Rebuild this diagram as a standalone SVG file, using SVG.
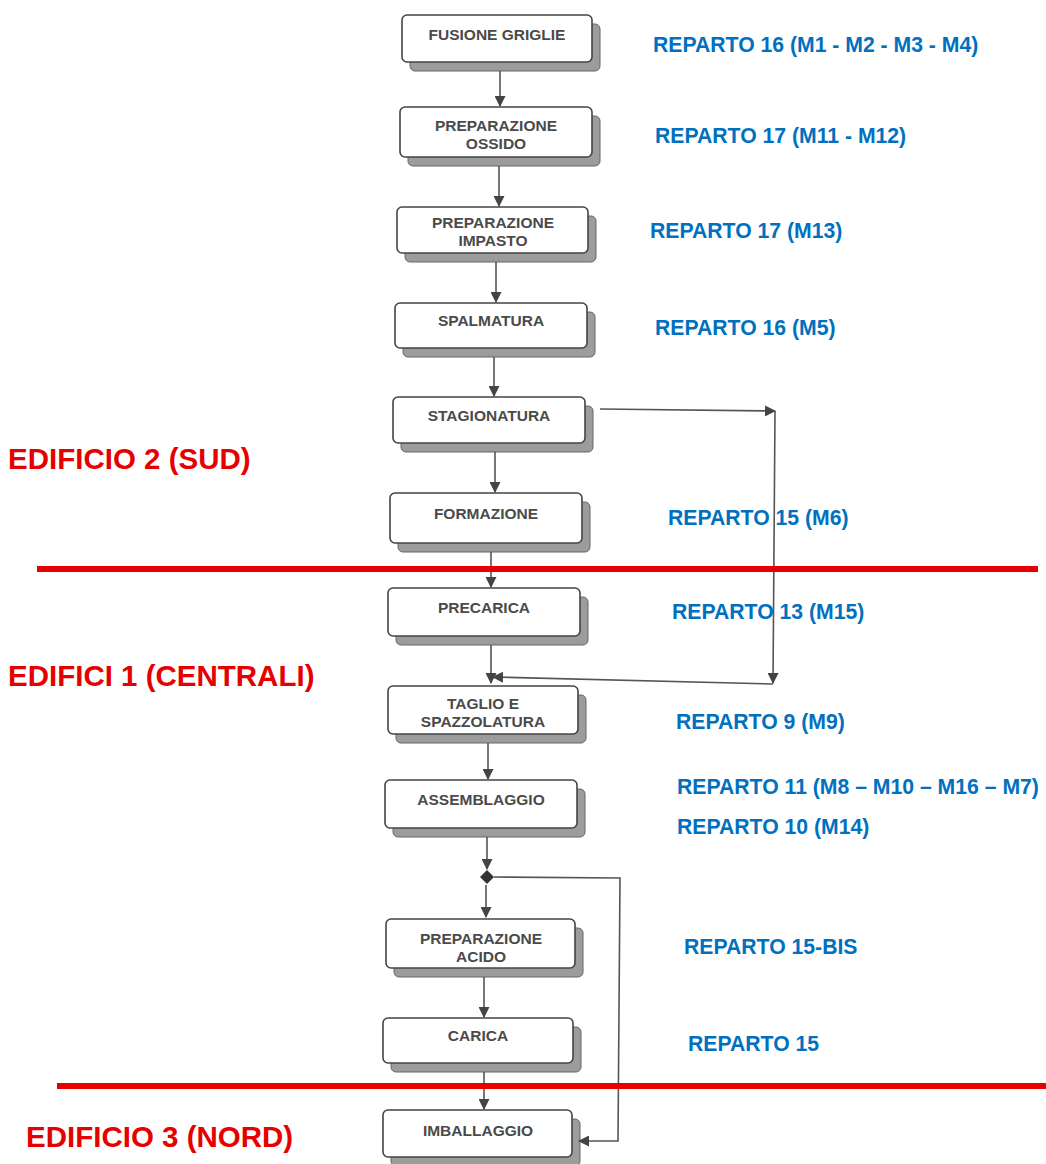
<svg xmlns="http://www.w3.org/2000/svg" width="1046" height="1164" viewBox="0 0 1046 1164">
<style>
.bx{fill:#fff;stroke:#444;stroke-width:1.6}
.sh{fill:#9c9c9c;stroke:#666;stroke-width:1}
.bt{font-family:"Liberation Sans",Arial,sans-serif;font-weight:bold;font-size:15.5px;fill:#4a4a4a;text-anchor:middle}
.rp{font-family:"Liberation Sans",Arial,sans-serif;font-weight:bold;font-size:21.2px;fill:#0070C0}
.ed{font-family:"Liberation Sans",Arial,sans-serif;font-weight:bold;font-size:29.5px;fill:#e60000}
.cn{fill:none;stroke:#555;stroke-width:1.6}
.rl{stroke:#e60000;stroke-width:6}
</style>
<defs>
<marker id="ah" markerWidth="11" markerHeight="11" refX="10" refY="5.5" orient="auto" markerUnits="userSpaceOnUse">
<path d="M0,0 L11,5.5 L0,11 z" fill="#444"/>
</marker>
</defs>

<g id="n1"><rect class="sh" x="410" y="24" width="190" height="47" rx="5"/><rect class="bx" x="402" y="15" width="190" height="47" rx="5"/><text class="bt" x="497" y="40">FUSIONE GRIGLIE</text></g>
<g id="n2"><rect class="sh" x="408" y="116" width="192" height="50" rx="5"/><rect class="bx" x="400" y="107" width="192" height="50" rx="5"/><text class="bt" x="496" y="131">PREPARAZIONE</text><text class="bt" x="496" y="149">OSSIDO</text></g>
<g id="n3"><rect class="sh" x="405" y="216" width="191" height="46" rx="5"/><rect class="bx" x="397" y="207" width="191" height="46" rx="5"/><text class="bt" x="493" y="228">PREPARAZIONE</text><text class="bt" x="493" y="246">IMPASTO</text></g>
<g id="n4"><rect class="sh" x="403" y="312" width="192" height="45" rx="5"/><rect class="bx" x="395" y="303" width="192" height="45" rx="5"/><text class="bt" x="491" y="326">SPALMATURA</text></g>
<g id="n5"><rect class="sh" x="401" y="406" width="192" height="46" rx="5"/><rect class="bx" x="393" y="397" width="192" height="46" rx="5"/><text class="bt" x="489" y="421">STAGIONATURA</text></g>
<g id="n6"><rect class="sh" x="398" y="502" width="192" height="50" rx="5"/><rect class="bx" x="390" y="493" width="192" height="50" rx="5"/><text class="bt" x="486" y="519">FORMAZIONE</text></g>
<g id="n7"><rect class="sh" x="396" y="597" width="192" height="48" rx="5"/><rect class="bx" x="388" y="588" width="192" height="48" rx="5"/><text class="bt" x="484" y="613">PRECARICA</text></g>
<g id="n8"><rect class="sh" x="396" y="695" width="190" height="48" rx="5"/><rect class="bx" x="388" y="686" width="190" height="48" rx="5"/><text class="bt" x="483" y="709">TAGLIO E</text><text class="bt" x="483" y="727">SPAZZOLATURA</text></g>
<g id="n9"><rect class="sh" x="393" y="789" width="192" height="48" rx="5"/><rect class="bx" x="385" y="780" width="192" height="48" rx="5"/><text class="bt" x="481" y="805">ASSEMBLAGGIO</text></g>
<g id="n10"><rect class="sh" x="394" y="928" width="189" height="49" rx="5"/><rect class="bx" x="386" y="919" width="189" height="49" rx="5"/><text class="bt" x="481" y="944">PREPARAZIONE</text><text class="bt" x="481" y="962">ACIDO</text></g>
<g id="n11"><rect class="sh" x="391" y="1027" width="190" height="45" rx="5"/><rect class="bx" x="383" y="1018" width="190" height="45" rx="5"/><text class="bt" x="478" y="1041">CARICA</text></g>
<g id="n12"><rect class="sh" x="391" y="1119" width="189" height="47" rx="5"/><rect class="bx" x="383" y="1110" width="189" height="47" rx="5"/><text class="bt" x="478" y="1136">IMBALLAGGIO</text></g>

<g id="connectors">
<line class="cn" x1="500" y1="71" x2="500" y2="106" marker-end="url(#ah)"/>
<line class="cn" x1="499" y1="166" x2="499" y2="206" marker-end="url(#ah)"/>
<line class="cn" x1="496" y1="262" x2="496" y2="302" marker-end="url(#ah)"/>
<line class="cn" x1="494" y1="357" x2="494" y2="396" marker-end="url(#ah)"/>
<line class="cn" x1="495" y1="452" x2="495" y2="492" marker-end="url(#ah)"/>
<line class="cn" x1="491" y1="552" x2="491" y2="587" marker-end="url(#ah)"/>
<line class="cn" x1="491" y1="645" x2="491" y2="683" marker-end="url(#ah)"/>
<line class="cn" x1="488" y1="743" x2="488" y2="779" marker-end="url(#ah)"/>
<line class="cn" x1="487" y1="837" x2="487" y2="869" marker-end="url(#ah)"/>
<line class="cn" x1="486" y1="885" x2="486" y2="917" marker-end="url(#ah)"/>
<line class="cn" x1="484" y1="977" x2="484" y2="1017" marker-end="url(#ah)"/>
<line class="cn" x1="484" y1="1072" x2="484" y2="1109" marker-end="url(#ah)"/>
<polyline class="cn" points="600,409 775,411" marker-end="url(#ah)"/>
<polyline class="cn" points="775,411 773,683" marker-end="url(#ah)"/>
<polyline class="cn" points="773,684 493,677" marker-end="url(#ah)"/>
<path d="M487,870 L494,877 L487,884 L480,877 z" fill="#333"/>
<polyline class="cn" points="494,877 620,878 618,1141 579,1141" marker-end="url(#ah)"/>
</g>

<g id="edifici">
<line class="rl" x1="37" y1="569" x2="1038" y2="569"/>
<line class="rl" x1="57" y1="1086" x2="1046" y2="1086"/>
<text class="ed" x="8" y="469">EDIFICIO 2 (SUD)</text>
<text class="ed" x="8" y="686">EDIFICI 1 (CENTRALI)</text>
<text class="ed" x="26" y="1147">EDIFICIO 3 (NORD)</text>
</g>

<g id="reparti">
<text class="rp" x="653" y="52">REPARTO 16 (M1 - M2 - M3 - M4)</text>
<text class="rp" x="655" y="143">REPARTO 17 (M11 - M12)</text>
<text class="rp" x="650" y="238">REPARTO 17 (M13)</text>
<text class="rp" x="655" y="335">REPARTO 16 (M5)</text>
<text class="rp" x="668" y="525">REPARTO 15 (M6)</text>
<text class="rp" x="672" y="619">REPARTO 13 (M15)</text>
<text class="rp" x="676" y="729">REPARTO 9 (M9)</text>
<text class="rp" x="677" y="794">REPARTO 11 (M8 – M10 – M16 – M7)</text>
<text class="rp" x="677" y="834">REPARTO 10 (M14)</text>
<text class="rp" x="684" y="954">REPARTO 15-BIS</text>
<text class="rp" x="688" y="1051">REPARTO 15</text>
</g>
</svg>
